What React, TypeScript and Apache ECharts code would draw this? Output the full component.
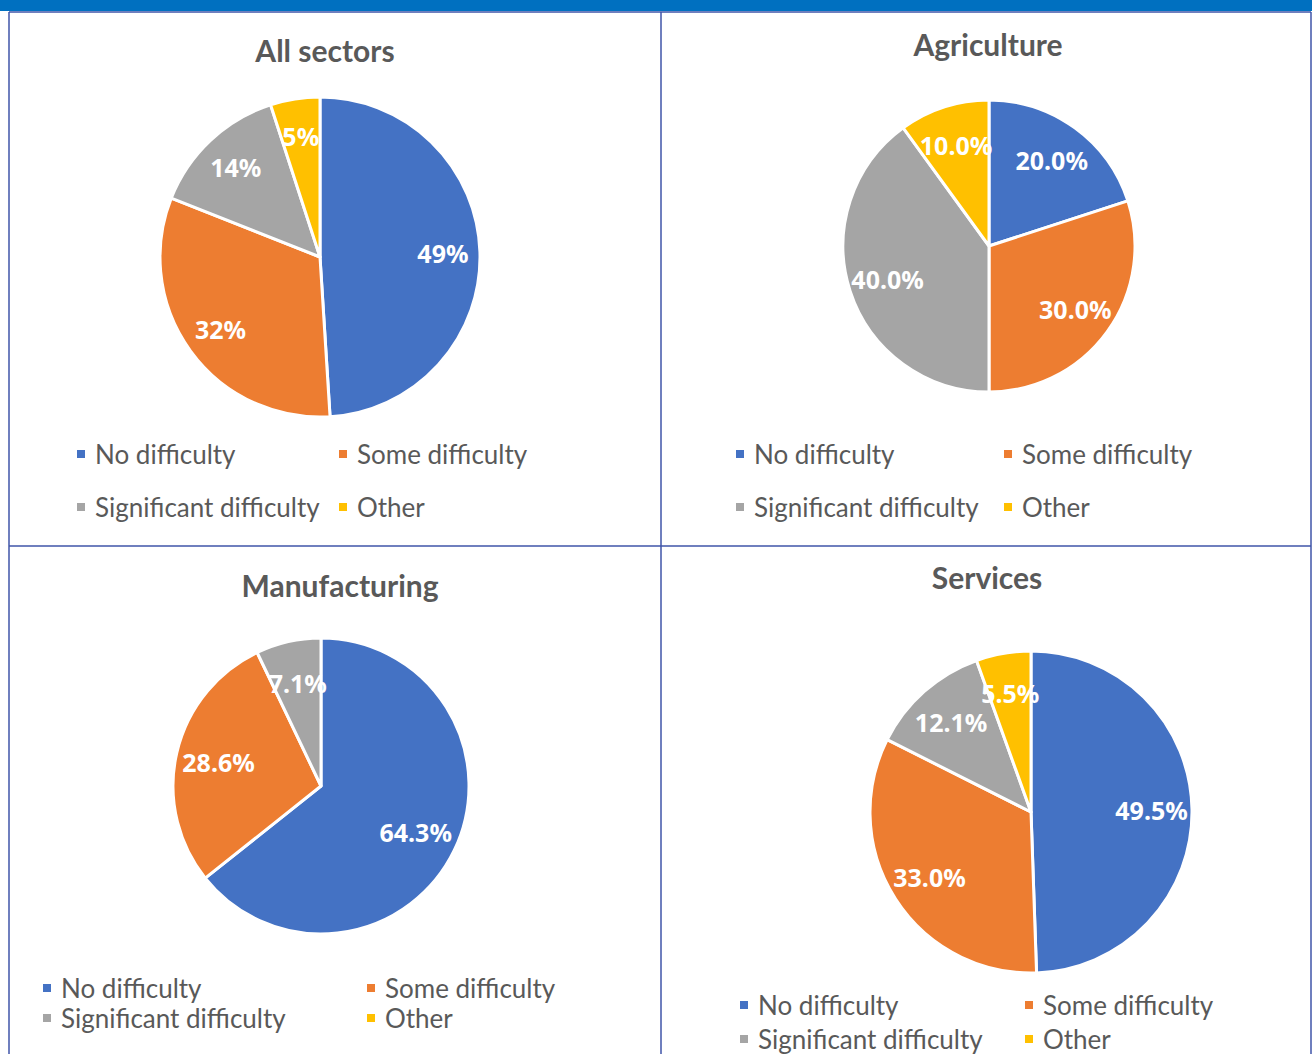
import React, { useEffect, useRef } from "react";
import * as echarts from "echarts";

const categories = ["No difficulty", "Some difficulty", "Significant difficulty", "Other"];
const sliceColors = ["#4472C4", "#ED7D31", "#A5A5A5", "#FFC000"];

const allSectors = [49, 32, 14, 5];
const agriculture = [20.0, 30.0, 40.0, 10.0];
const manufacturing = [64.3, 28.6, 7.1];
const services = [49.5, 33.0, 12.1, 5.5];

const panelTitles = ["All sectors", "Agriculture", "Manufacturing", "Services"];
const panelValues = [allSectors, agriculture, manufacturing, services];
const labelDecimals = [0, 1, 1, 1];

const FONT = "Lato, 'Source Sans Pro', 'Noto Sans', sans-serif";
const LABEL_FONT = "'Noto Sans', sans-serif";
const TEXT_GREY = "#595959";

// layout only
const panelLayout = [
  { center: [320, 257], r: 160, inner: 0.5, title: [325, 50], rows: [454, 507], cols: [75, 337] },
  { center: [989, 246], r: 146, inner: 0.42, title: [988, 44], rows: [454, 507], cols: [734, 1002] },
  { center: [321, 786], r: 148, inner: 0.38, title: [340, 585], rows: [988, 1018], cols: [41, 365] },
  { center: [1031, 812], r: 161, inner: 0.46, title: [987, 577], rows: [1005, 1039], cols: [738, 1023] },
];

export default function App() {
  const ref = useRef<HTMLDivElement>(null);

  useEffect(() => {
    if (!ref.current) return;
    const chart = echarts.init(ref.current, undefined, { renderer: "svg" });

    const series: any[] = [];
    const legends: any[] = [];
    const graphics: any[] = [];

    graphics.push({
      type: "rect",
      shape: { x: 0, y: 0, width: 1312, height: 11 },
      style: { fill: "#0070C0" },
      silent: true,
    });
    const lineStyle = { stroke: "#3F55A8", lineWidth: 1.5 };
    const lines = [
      [9, 12, 1311, 12],
      [9, 546, 1311, 546],
      [9, 12, 9, 1054],
      [661, 12, 661, 1054],
      [1311, 12, 1311, 1054],
    ];
    lines.forEach(([x1, y1, x2, y2]) =>
      graphics.push({ type: "line", shape: { x1, y1, x2, y2 }, style: lineStyle, silent: true })
    );

    panelValues.forEach((vals, p) => {
      const L = panelLayout[p];
      const data = vals.map((v, i) => ({
        name: categories[i],
        value: v,
        itemStyle: { color: sliceColors[i] },
      }));
      series.push({
        type: "pie",
        center: L.center,
        radius: L.r,
        startAngle: 90,
        clockwise: true,
        silent: true,
        avoidLabelOverlap: false,
        itemStyle: { borderColor: "#ffffff", borderWidth: 3 },
        label: { show: false },
        labelLine: { show: false },
        emphasis: { disabled: true },
        data,
      });
      series.push({
        type: "pie",
        center: L.center,
        radius: [L.r * L.inner, L.r],
        startAngle: 90,
        clockwise: true,
        silent: true,
        avoidLabelOverlap: false,
        itemStyle: { color: "rgba(0,0,0,0)", borderWidth: 0 },
        label: {
          show: true,
          position: "inside",
          formatter: (pp: any) => Number(pp.value).toFixed(labelDecimals[p]) + "%",
          color: "#ffffff",
          fontSize: 25,
          fontWeight: "bold",
          fontFamily: LABEL_FONT,
        },
        labelLine: { show: false },
        emphasis: { disabled: true },
        data: vals.map((v, i) => ({ name: categories[i], value: v, itemStyle: { color: "rgba(0,0,0,0)" } })),
      });

      graphics.push({
        type: "text",
        x: L.title[0],
        y: L.title[1],
        style: {
          text: panelTitles[p],
          textAlign: "center",
          textVerticalAlign: "middle",
          fill: TEXT_GREY,
          fontSize: 30,
          fontWeight: "bold",
          fontFamily: FONT,
        },
        silent: true,
      });

      categories.forEach((name, i) => {
        const row = Math.floor(i / 2);
        const col = i % 2;
        legends.push({
          left: L.cols[col],
          top: L.rows[row] - 13,
          padding: 0,
          icon: "rect",
          itemWidth: 10,
          itemHeight: 10,
          selectedMode: false,
          data: [{ name, itemStyle: { color: sliceColors[i] } }],
          textStyle: {
            fontSize: 26,
            lineHeight: 26,
            color: TEXT_GREY,
            fontFamily: FONT,
            padding: [0, 0, 0, 4],
          },
        });
      });
    });

    chart.setOption({
      animation: false,
      backgroundColor: "#ffffff",
      legend: legends,
      series,
      graphic: graphics,
    });

    return () => chart.dispose();
  }, []);

  return (
    <div
      ref={ref}
      style={{ position: "absolute", left: 0, top: 0, width: 1312, height: 1054 }}
    />
  );
}
